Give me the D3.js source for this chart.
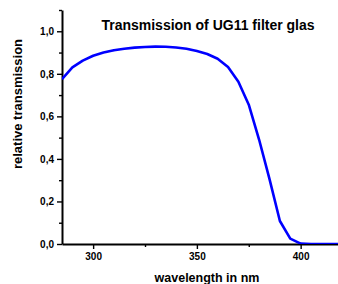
<!DOCTYPE html>
<html><head><meta charset="utf-8">
<script src="https://cdn.jsdelivr.net/npm/d3@7"></script>
<style>body{margin:0;background:#fff}svg{display:block}text{font-family:"Liberation Sans",Arial,sans-serif;font-weight:bold}</style>
</head><body><svg id="c" width="338" height="284"></svg>
<script>
const wavelength = [285,290,295,300,305,310,315,320,325,330,335,340,345,350,355,360,365,370,375,380,385,390,395,400,405,410,415,420];
const transmission = [0.775,0.83,0.862,0.885,0.90,0.911,0.918,0.923,0.926,0.928,0.927,0.924,0.918,0.907,0.893,0.871,0.832,0.763,0.655,0.49,0.305,0.108,0.025,0.002,0,0,0,0];
const xMajor = [300,350,400];
const xMinor = [325,375];
const yMajor = [0,0.2,0.4,0.6,0.8,1.0];
const yMinor = [0.1,0.3,0.5,0.7,0.9,1.1];
const title = "Transmission of UG11 filter glas";
const xTitle = "wavelength in nm";
const yTitle = "relative transmission";

const svg = d3.select("#c");
const x = d3.scaleLinear().domain([285,418]).range([62,338]);
const y = d3.scaleLinear().domain([0,1.1]).range([244,10]);
const fmt = v => d3.format(".1f")(v).replace(".", ",");

svg.append("clipPath").attr("id","clip").append("rect")
  .attr("x",62).attr("y",0).attr("width",276).attr("height",244);

// minor ticks
svg.append("g").attr("transform","translate(0,244)")
  .call(d3.axisBottom(x).tickValues(xMinor).tickSize(3).tickFormat(""))
  .call(g=>g.select(".domain").remove());
svg.append("g").attr("transform","translate(62,0)")
  .call(d3.axisLeft(y).tickValues(yMinor).tickSize(3).tickFormat(""))
  .call(g=>g.select(".domain").remove());

const xa = svg.append("g").attr("transform","translate(0,244)")
  .call(d3.axisBottom(x).tickValues(xMajor).tickSize(5).tickSizeOuter(0).tickPadding(4).tickFormat(d=>d));
const ya = svg.append("g").attr("transform","translate(62,0)")
  .call(d3.axisLeft(y).tickValues(yMajor).tickSize(5).tickSizeOuter(0).tickPadding(3).tickFormat(fmt));
[xa,ya].forEach(g=>{
  g.selectAll("text").attr("font-size",10).attr("fill","#000");
});
svg.selectAll(".tick line").attr("stroke","#000").attr("stroke-width",1.4);
xa.select(".domain").attr("stroke-width",2);
ya.select(".domain").attr("stroke-width",2);

svg.append("path")
  .datum(wavelength.map((w,i)=>[w,transmission[i]]))
  .attr("clip-path","url(#clip)")
  .attr("fill","none").attr("stroke","#0000ff").attr("stroke-width",2.6)
  .attr("stroke-linejoin","round")
  .attr("d", d3.line().x(d=>x(d[0])).y(d=>y(d[1])));

svg.append("text").attr("x",208).attr("y",30).attr("text-anchor","middle")
  .attr("font-size",14).text(title);
svg.append("text").attr("x",207).attr("y",282).attr("text-anchor","middle")
  .attr("font-size",12.5).text(xTitle);
svg.append("text").attr("transform","translate(22,104) rotate(-90)").attr("text-anchor","middle")
  .attr("font-size",13).text(yTitle);
</script></body></html>
